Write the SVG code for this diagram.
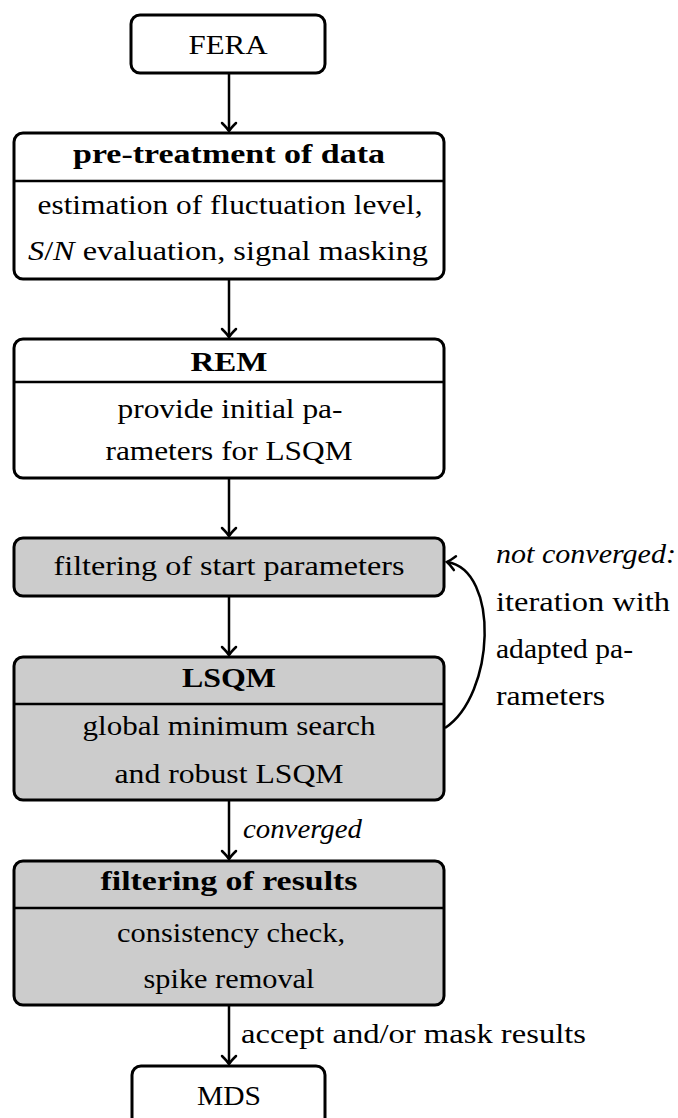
<svg xmlns="http://www.w3.org/2000/svg" width="678" height="1118" viewBox="0 0 678 1118">
<defs>
<style>
.box{fill:#fff;stroke:#000;stroke-width:3}
.gray{fill:#ccc}
.div{stroke:#000;stroke-width:2.5}
.t{font-family:"Liberation Serif","DejaVu Serif",serif;font-size:28px;fill:#000}
.c{text-anchor:middle}
.b{font-weight:bold}
.i{font-style:italic}
.con{fill:none;stroke:#000;stroke-width:2.5}
</style>
<marker id="arr" markerUnits="userSpaceOnUse" viewBox="-10 -10 14 20" refX="0" refY="0" markerWidth="14" markerHeight="20" orient="auto" overflow="visible">
<path d="M-8,-7 Q-2.5,-1.5 0,0 Q-2.5,1.5 -8,7" fill="none" stroke="#000" stroke-width="2.5" stroke-linecap="round"/>
</marker>
</defs>
<rect width="678" height="1118" fill="#fff"/>
<g id="connectors">
<line class="con" x1="229" y1="73" x2="229" y2="131" marker-end="url(#arr)"/>
<line class="con" x1="229" y1="279" x2="229" y2="337" marker-end="url(#arr)"/>
<line class="con" x1="229" y1="478" x2="229" y2="536" marker-end="url(#arr)"/>
<line class="con" x1="229" y1="596" x2="229" y2="655" marker-end="url(#arr)"/>
<line class="con" x1="229" y1="800" x2="229" y2="859" marker-end="url(#arr)"/>
<line class="con" x1="229" y1="1005" x2="229" y2="1064" marker-end="url(#arr)"/>
<path class="con" d="M445,728 C495,695 500,570 447,562" marker-end="url(#arr)"/>
<text class="t i" x="243" y="838" textLength="119" lengthAdjust="spacingAndGlyphs">converged</text>
<text class="t" x="241" y="1043" textLength="345" lengthAdjust="spacingAndGlyphs">accept and/or mask results</text>
<text class="t i" x="496" y="563" textLength="180" lengthAdjust="spacingAndGlyphs">not converged:</text>
<text class="t" x="496" y="611" textLength="174" lengthAdjust="spacingAndGlyphs">iteration with</text>
<text class="t" x="496" y="658" textLength="137" lengthAdjust="spacingAndGlyphs">adapted pa-</text>
<text class="t" x="496" y="705" textLength="109" lengthAdjust="spacingAndGlyphs">rameters</text>
</g>
<g id="fera">
<rect class="box" x="131" y="15" width="194" height="58" rx="9"/>
<text class="t c" x="228" y="54" textLength="79" lengthAdjust="spacingAndGlyphs">FERA</text>
</g>
<g id="pretreatment">
<rect class="box" x="14" y="133" width="430" height="146" rx="9"/>
<line class="div" x1="14" y1="181" x2="444" y2="181"/>
<text class="t c b" x="229" y="163" textLength="312" lengthAdjust="spacingAndGlyphs">pre-treatment of data</text>
<text class="t c" x="230" y="214" textLength="385" lengthAdjust="spacingAndGlyphs">estimation of fluctuation level,</text>
<text class="t c" x="228" y="260" textLength="400" lengthAdjust="spacingAndGlyphs"><tspan class="i">S</tspan>/<tspan class="i">N</tspan> evaluation, signal masking</text>
</g>
<g id="rem">
<rect class="box" x="14" y="339" width="430" height="139" rx="9"/>
<line class="div" x1="14" y1="382" x2="444" y2="382"/>
<text class="t c b" x="229" y="371" textLength="77" lengthAdjust="spacingAndGlyphs">REM</text>
<text class="t c" x="230" y="418" textLength="225" lengthAdjust="spacingAndGlyphs">provide initial pa-</text>
<text class="t c" x="229" y="460" textLength="247" lengthAdjust="spacingAndGlyphs">rameters for LSQM</text>
</g>
<g id="filterstart">
<rect class="box gray" x="14" y="538" width="430" height="58" rx="9"/>
<text class="t c" x="229" y="575" textLength="351" lengthAdjust="spacingAndGlyphs">filtering of start parameters</text>
</g>
<g id="lsqm">
<rect class="box gray" x="14" y="657" width="430" height="143" rx="9"/>
<line class="div" x1="14" y1="704" x2="444" y2="704"/>
<text class="t c b" x="229" y="687" textLength="94" lengthAdjust="spacingAndGlyphs">LSQM</text>
<text class="t c" x="229" y="735" textLength="293" lengthAdjust="spacingAndGlyphs">global minimum search</text>
<text class="t c" x="229" y="783" textLength="229" lengthAdjust="spacingAndGlyphs">and robust LSQM</text>
</g>
<g id="filterresults">
<rect class="box gray" x="14" y="861" width="430" height="144" rx="9"/>
<line class="div" x1="14" y1="908" x2="444" y2="908"/>
<text class="t c b" x="229" y="890" textLength="257" lengthAdjust="spacingAndGlyphs">filtering of results</text>
<text class="t c" x="231" y="942" textLength="228" lengthAdjust="spacingAndGlyphs">consistency check,</text>
<text class="t c" x="229" y="988" textLength="171" lengthAdjust="spacingAndGlyphs">spike removal</text>
</g>
<g id="mds">
<rect class="box" x="132" y="1066" width="193" height="70" rx="9"/>
<text class="t c" x="229" y="1105" textLength="64" lengthAdjust="spacingAndGlyphs">MDS</text>
</g>
</svg>
